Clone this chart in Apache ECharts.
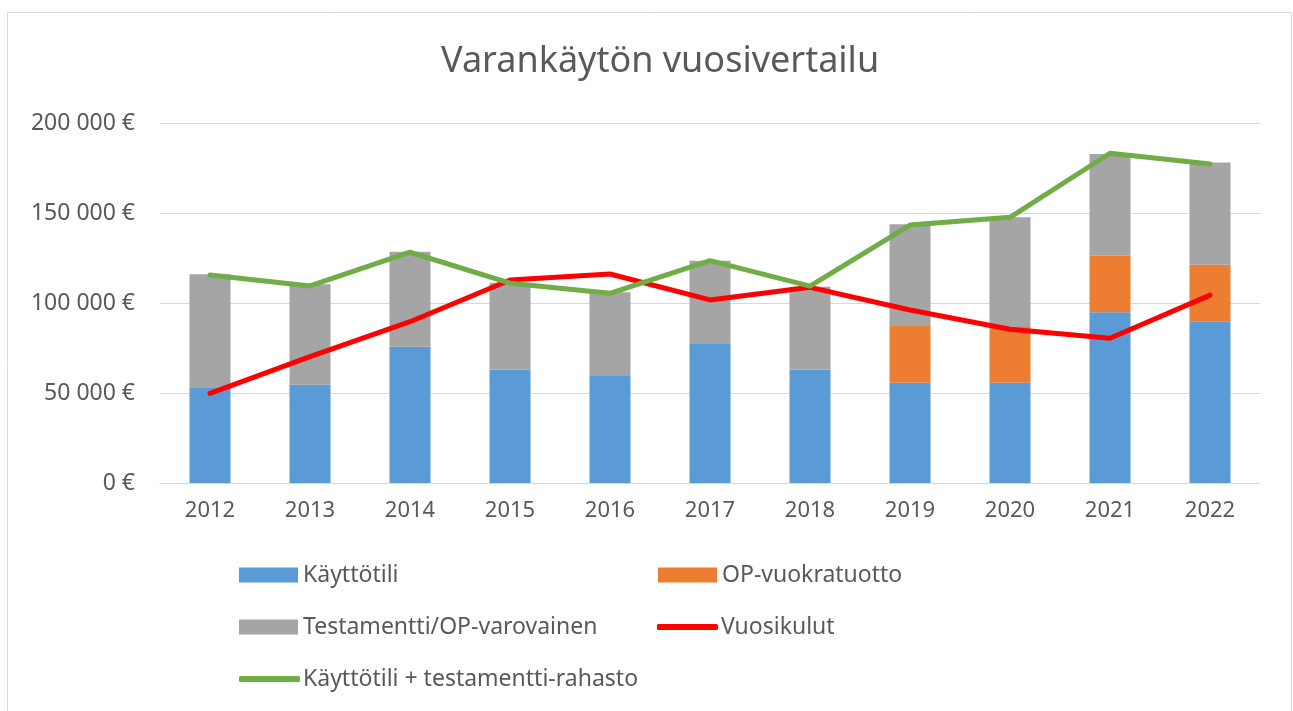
<!DOCTYPE html>
<html>
<head>
<meta charset="utf-8">
<script src="https://cdn.jsdelivr.net/npm/echarts@6/dist/echarts.min.js"></script>
<style>
  html, body { margin: 0; padding: 0; background: #fff; }
  #chart { width: 1293px; height: 711px; }
</style>
</head>
<body>
<div id="chart"></div>
<script>
const years = ['2012', '2013', '2014', '2015', '2016', '2017', '2018', '2019', '2020', '2021', '2022'];
const kayttotili = [53200, 54600, 75700, 63100, 59400, 77200, 63100, 55700, 55700, 94800, 89800];
const opVuokratuotto = [0, 0, 0, 0, 0, 0, 0, 31500, 31000, 31500, 31500];
const testamentti = [62800, 55800, 52800, 48200, 46600, 46300, 45900, 56500, 60900, 56500, 56700];
const vuosikulut = [49800, 70200, 89600, 112800, 116100, 101700, 108700, 96100, 85400, 80400, 104400];
const yhteensa = [115600, 109500, 128200, 111000, 105400, 123500, 109400, 143300, 147600, 183200, 177200];

const names = ['Käyttötili', 'OP-vuokratuotto', 'Testamentti/OP-varovainen', 'Vuosikulut', 'Käyttötili + testamentti-rahasto'];
const colors = ['#5B9BD5', '#ED7D31', '#A5A5A5', '#FF0000', '#70AD47'];

const FONT = 'Noto Sans';
const TXT = '#595959';

function fmt(v) {
  return String(v).replace(/\B(?=(\d{3})+(?!\d))/g, ' ') + ' €';
}

function legend(name, left, centerY, isLine) {
  return {
    data: [name],
    left: left,
    top: centerY - 14,
    padding: 0,
    icon: isLine ? 'roundRect' : 'rect',
    itemWidth: isLine ? 61 : 59,
    itemHeight: isLine ? 6 : 15,
    selectedMode: false,
    textStyle: { fontFamily: FONT, fontSize: 23, color: TXT, lineHeight: 28, padding: [0, 0, 0, isLine ? -2 : 0] }
  };
}

const chart = echarts.init(document.getElementById('chart'), null, { renderer: 'canvas' });
chart.setOption({
  animation: false,
  backgroundColor: '#ffffff',
  color: colors,
  title: {
    text: 'Varankäytön vuosivertailu',
    left: 436,
    top: 39,
    textStyle: { fontFamily: FONT, fontSize: 36, fontWeight: 'normal', color: TXT }
  },
  graphic: [{
    type: 'rect',
    shape: { x: 7.5, y: 12.5, width: 1284, height: 720 },
    style: { fill: 'none', stroke: '#D9D9D9', lineWidth: 1 },
    silent: true
  }],
  legend: [
    legend(names[0], 239, 575, false),
    legend(names[1], 658, 575, false),
    legend(names[2], 239, 627, false),
    legend(names[3], 657, 627, true),
    legend(names[4], 239, 679, true)
  ],
  grid: { left: 160, right: 33, top: 123, bottom: 228, containLabel: false },
  xAxis: {
    type: 'category',
    data: years,
    boundaryGap: true,
    axisLine: { lineStyle: { color: '#D9D9D9', width: 1 } },
    axisTick: { show: false },
    axisLabel: { fontFamily: FONT, fontSize: 22, color: TXT, margin: 17 }
  },
  yAxis: {
    type: 'value',
    min: 0,
    max: 200000,
    interval: 50000,
    axisLine: { show: false },
    axisTick: { show: false },
    splitLine: { lineStyle: { color: '#D9D9D9', width: 1 } },
    axisLabel: { fontFamily: FONT, fontSize: 23, color: TXT, margin: 25, formatter: fmt }
  },
  series: [
    { name: names[0], type: 'bar', stack: 'a', barWidth: 41, data: kayttotili, itemStyle: { color: colors[0] } },
    { name: names[1], type: 'bar', stack: 'a', barWidth: 41, data: opVuokratuotto, itemStyle: { color: colors[1] } },
    { name: names[2], type: 'bar', stack: 'a', barWidth: 41, data: testamentti, itemStyle: { color: colors[2] } },
    { name: names[3], type: 'line', data: vuosikulut, showSymbol: false, symbol: 'none', z: 3,
      lineStyle: { color: colors[3], width: 5, cap: 'round', join: 'round' }, itemStyle: { color: colors[3] } },
    { name: names[4], type: 'line', data: yhteensa, showSymbol: false, symbol: 'none', z: 4,
      lineStyle: { color: colors[4], width: 5, cap: 'round', join: 'round' }, itemStyle: { color: colors[4] } }
  ]
});
</script>
</body>
</html>
